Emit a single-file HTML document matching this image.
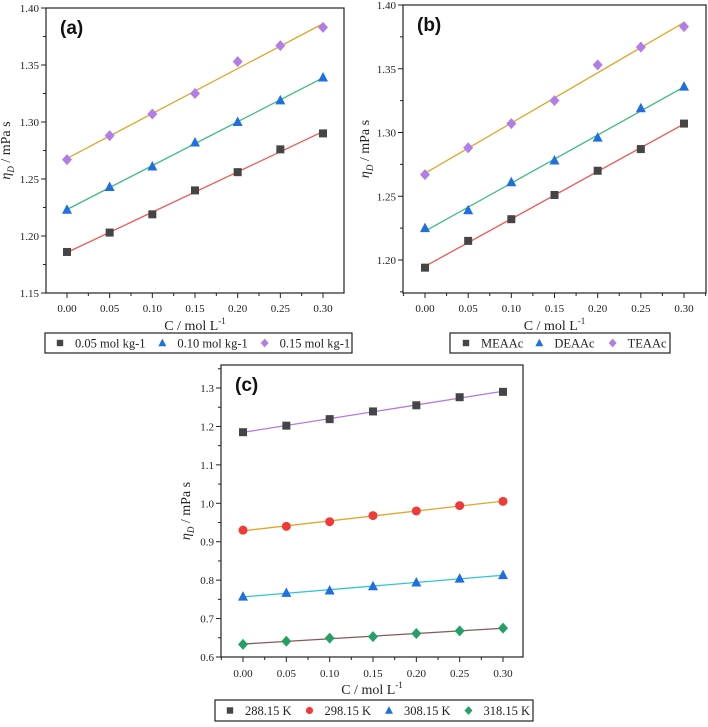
<!DOCTYPE html>
<html><head><meta charset="utf-8"><style>
body{margin:0;background:#fff;width:708px;height:722px;overflow:hidden}
svg{font-family:"Liberation Serif",serif}
</style></head><body>
<svg id="s" width="708" height="722"></svg>
<script>
const xCats=[0,0.05,0.10,0.15,0.20,0.25,0.30];
const xTickLabels=["0.00","0.05","0.10","0.15","0.20","0.25","0.30"];
const aSq=[1.186,1.203,1.219,1.240,1.256,1.276,1.290];
const aTri=[1.223,1.243,1.261,1.282,1.300,1.319,1.339];
const aDia=[1.267,1.288,1.307,1.325,1.353,1.367,1.383];
const bMEAAc=[1.194,1.215,1.232,1.251,1.270,1.287,1.307];
const bDEAAc=[1.225,1.239,1.261,1.278,1.296,1.319,1.336];
const bTEAAc=[1.267,1.288,1.307,1.325,1.353,1.367,1.383];
const c288=[1.185,1.202,1.219,1.239,1.255,1.276,1.290];
const c298=[0.930,0.940,0.952,0.968,0.980,0.994,1.005];
const c308=[0.757,0.767,0.773,0.784,0.794,0.804,0.813];
const c318=[0.633,0.641,0.649,0.653,0.661,0.668,0.675];
const abYTicks=[1.15,1.20,1.25,1.30,1.35,1.40];
const cYTicks=[0.6,0.7,0.8,0.9,1.0,1.1,1.2,1.3];
const aLegend=["0.05 mol kg-1","0.10 mol kg-1","0.15 mol kg-1"];
const bLegend=["MEAAc","DEAAc","TEAAc"];
const cLegend=["288.15 K","298.15 K","308.15 K","318.15 K"];

const NS="http://www.w3.org/2000/svg";
const S=document.getElementById('s');
function mk(tag,attrs,parent,text){const e=document.createElementNS(NS,tag);for(const k in attrs)e.setAttribute(k,attrs[k]);if(text!==undefined)e.textContent=text;(parent||S).appendChild(e);return e;}
const MC={sq:"#454545",tri:"#1f6fe0",dia:"#b07ee6",cir:"#f03a3a",gdia:"#23a065"};
function marker(g,type,x,y,k){
  k=k||1;
  let e;
  if(type==='sq')e=mk('rect',{x:x-4*k,y:y-4*k,width:8*k,height:8*k,fill:MC.sq},g);
  else if(type==='tri')e=mk('polygon',{points:`${x},${y-5.5*k} ${x+5*k},${y+4*k} ${x-5*k},${y+4*k}`,fill:MC.tri},g);
  else if(type==='dia'||type==='gdia')e=mk('polygon',{points:`${x},${y-5.5*k} ${x+5*k},${y} ${x},${y+5.5*k} ${x-5*k},${y}`,fill:type==='dia'?MC.dia:MC.gdia},g);
  else e=mk('circle',{cx:x,cy:y,r:4.5*k,fill:MC.cir},g);
  return e;
}
function fit(xs,ys){const n=xs.length;let sx=0,sy=0,sxx=0,sxy=0;for(let i=0;i<n;i++){sx+=xs[i];sy+=ys[i];sxx+=xs[i]*xs[i];sxy+=xs[i]*ys[i];}const b=(n*sxy-sx*sy)/(n*sxx-sx*sx);return [ (sy-b*sx)/n, b];}
function panel(p){
  const g=mk('g',{},S);
  
  
  const X=v=>p.x0+(v-0)/(0.30)*(p.x1-p.x0);
  const Y=v=>p.yA+(v-p.vA)/(p.vB-p.vA)*(p.yB-p.yA);
  const ymin=p.vA+(p.bottom-p.yA)/(p.yB-p.yA)*(p.vB-p.vA);
  const ymax=p.vA+(p.top-p.yA)/(p.yB-p.yA)*(p.vB-p.vA);
  const box=mk('rect',{x:p.left,y:p.top,width:p.right-p.left,height:p.bottom-p.top,fill:'none',stroke:'#222','stroke-width':1.2},g);
  
  for(let v=-0.025;v<=0.326;v+=0.025){const x=X(v);if(x<p.left||x>p.right)continue;const major=Math.abs(Math.round(v/0.05)*0.05-v)<1e-6;mk('line',{x1:x,x2:x,y1:p.bottom,y2:p.bottom+(major?5:3),stroke:'#222'},g);}
  xCats.forEach((v,i)=>{const t=mk('text',{x:X(v),y:p.bottom+p.tickOff,'text-anchor':'middle','font-size':11,fill:'#222'},g,xTickLabels[i]);});
  const step=p.yt[1]-p.yt[0];
  for(let v=p.yt[0]-step;v<=ymax+1e-6;v+=step/2){if(v<ymin-1e-6)continue;const y=Y(v);const major=p.yt.some(t=>Math.abs(t-v)<1e-6);mk('line',{x1:p.left,x2:p.left-(major?5:3),y1:y,y2:y,stroke:'#222'},g);}
  p.yt.forEach(v=>{if(v<ymin-1e-6||v>ymax+1e-6)return;const t=mk('text',{x:p.left-7,y:Y(v)+4,'text-anchor':'end','font-size':11,fill:'#222'},g,v.toFixed(p.dec));});
  const xt=mk('text',{x:(p.left+p.right)/2,y:p.bottom+p.titleOff,'text-anchor':'middle','font-size':14,fill:'#222'},g);
  
  xt.innerHTML='C / mol L<tspan dy="-6" font-size="9">-1</tspan>';
  const cy=(p.top+p.bottom)/2;
  const yt=mk('text',{transform:`translate(${p.left-p.yTitleOff},${cy}) rotate(-90)`,'text-anchor':'middle','font-size':14,fill:'#222'},g);
  
  yt.innerHTML='<tspan font-style="italic">η</tspan><tspan font-style="italic" font-size="9" dy="4">D</tspan><tspan dy="-4"> / mPa s</tspan>';
  const lab=mk('text',{x:p.left+14,y:p.top+26,'font-size':19,'font-weight':'bold','font-family':'Liberation Sans, sans-serif',fill:'#111'},g,p.label);
  
  p.series.forEach(s=>{
    const [a,b]=fit(xCats,s.data);
    const ln=mk('line',{x1:X(0),y1:Y(a),x2:X(0.30),y2:Y(a+b*0.30),stroke:s.line,'stroke-width':1.3},g);
    
    s.data.forEach((v,i)=>{const m=marker(g,s.m,X(xCats[i]),Y(v));});
  });
  const L=p.leg;
  const lg=mk('g',{},g);
  
  mk('rect',{x:L.x,y:L.y,width:L.w,height:L.h,fill:'#fff',stroke:'#222','stroke-width':1.2},lg);
  const seg=L.w/p.series.length;
  p.series.forEach((s,i)=>{const bx=L.x+i*seg+L.pad;marker(lg,s.m,bx,L.y+L.h/2,0.8);const t=mk('text',{x:bx+L.gap,y:L.y+L.h/2+4.5,'font-size':12.5,fill:'#222'},lg,s.name);});
}
panel({name:'panel-a',label:'(a)',left:46,right:344,top:8,bottom:293,x0:67,x1:323,yA:8,vA:1.40,yB:293,vB:1.15,yt:abYTicks,dec:2,tickOff:19,titleOff:37,yTitleOff:36,
  series:[{data:aSq,m:'sq',line:'#f05656',name:aLegend[0]},{data:aTri,m:'tri',line:'#3cbc7c',name:aLegend[1]},{data:aDia,m:'dia',line:'#e0a628',name:aLegend[2]}],
  leg:{x:45,y:333,w:307,h:20,pad:15,gap:15}});
panel({name:'panel-b',label:'(b)',left:403,right:706,top:5,bottom:293,x0:425,x1:684,yA:5,vA:1.40,yB:260,vB:1.20,yt:abYTicks,dec:2,tickOff:19,titleOff:37,yTitleOff:34,
  series:[{data:bMEAAc,m:'sq',line:'#f05656',name:bLegend[0]},{data:bDEAAc,m:'tri',line:'#3cbc7c',name:bLegend[1]},{data:bTEAAc,m:'dia',line:'#e0a628',name:bLegend[2]}],
  leg:{x:450,y:333,w:220,h:20,pad:16,gap:15}});
panel({name:'panel-c',label:'(c)',left:221,right:523,top:365,bottom:657,x0:243,x1:503,yA:388,vA:1.3,yB:657,vB:0.6,yt:cYTicks,dec:1,tickOff:20,titleOff:37,yTitleOff:31,
  series:[{data:c288,m:'sq',line:'#b07ae6',name:cLegend[0]},{data:c298,m:'cir',line:'#e0a628',name:cLegend[1]},{data:c308,m:'tri',line:'#30c4d4',name:cLegend[2]},{data:c318,m:'gdia',line:'#8a5a5a',name:cLegend[3]}],
  leg:{x:215,y:700,w:318,h:21,pad:15,gap:15}});
</script>
</body></html>
